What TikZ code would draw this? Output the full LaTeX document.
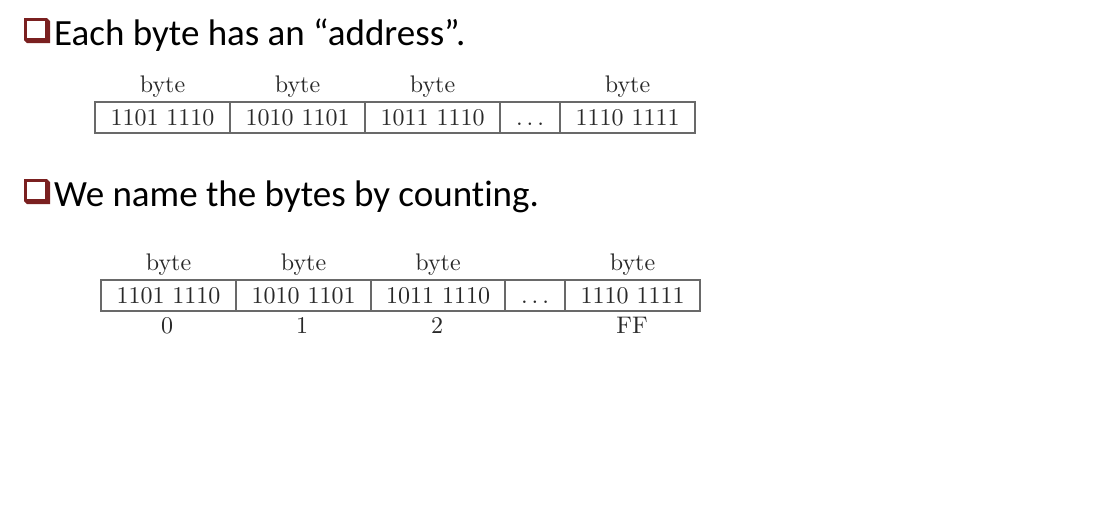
\documentclass[tikz,border=0pt]{standalone}
\usepackage{graphicx}
\usepackage{fontspec}
\newfontfamily\headfont{Carlito}[Ligatures=NoCommon]
\definecolor{bulletred}{RGB}{122,32,32}
\definecolor{cellline}{RGB}{105,105,105}
\definecolor{celltext}{RGB}{40,40,40}
\newcommand{\bigtxt}[1]{\scalebox{2.4}{\fontsize{10}{12}\selectfont #1}}
\begin{document}
\begin{tikzpicture}[x=1pt,y=-1pt,
  head/.style={anchor=base west,inner sep=0pt,font=\headfont\fontsize{37}{44}\selectfont},
  cell/.style={draw=cellline,line width=1.1pt,minimum height=31pt,inner sep=0pt,text=celltext},
  wide/.style={cell,minimum width=135pt},
  narrow/.style={cell,minimum width=60pt},
  lbl/.style={anchor=base,inner sep=0pt,text=celltext}]
\useasboundingbox[fill=white] (0,0) rectangle (1115,525);
% bullets
\foreach \yy in {0,161}{
  \begin{scope}[yshift=-\yy pt]
  \fill[bulletred] (24,18) -- (47,18) -- (50,21) -- (50,43) -- (27,43) -- (24,40) -- cycle;
  \fill[white] (27,21) rectangle (44.5,37.5);
  \end{scope}
}
\node[head] (h1) at (54,45) {Each byte has an “address”.};
\node[head] (h2) at (54,206) {We name the bytes by counting.};
% row 1
\node[wide] (a1) at (162.5,117.5) {\bigtxt{1101 1110}};
\node[wide] (a2) at (297.5,117.5) {\bigtxt{1010 1101}};
\node[wide] (a3) at (432.5,117.5) {\bigtxt{1011 1110}};
\node[narrow] (a4) at (530,117.5) {\bigtxt{\vphantom{0}$\ldots$}};
\node[wide] (a5) at (627.5,117.5) {\bigtxt{1110 1111}};
\node[lbl] (ba1) at (162.5,92) {\bigtxt{byte}};
\node[lbl] (ba2) at (297.5,92) {\bigtxt{byte}};
\node[lbl] (ba3) at (432.5,92) {\bigtxt{byte}};
\node[lbl] (ba5) at (627.5,92) {\bigtxt{byte}};
% row 2
\node[wide] (b1) at (168.5,295.5) {\bigtxt{1101 1110}};
\node[wide] (b2) at (303.5,295.5) {\bigtxt{1010 1101}};
\node[wide] (b3) at (438,295.5) {\bigtxt{1011 1110}};
\node[narrow] (b4) at (535,295.5) {\bigtxt{\vphantom{0}$\ldots$}};
\node[wide] (b5) at (632.5,295.5) {\bigtxt{1110 1111}};
\node[lbl] (bb1) at (168.5,270) {\bigtxt{byte}};
\node[lbl] (bb2) at (303.5,270) {\bigtxt{byte}};
\node[lbl] (bb3) at (438,270) {\bigtxt{byte}};
\node[lbl] (bb5) at (632.5,270) {\bigtxt{byte}};
\node[lbl] (i1) at (167,333) {\bigtxt{0}};
\node[lbl] (i2) at (302,333) {\bigtxt{1}};
\node[lbl] (i3) at (437,333) {\bigtxt{2}};
\node[lbl] (i5) at (632,333) {\bigtxt{FF}};
\end{tikzpicture}
\end{document}
